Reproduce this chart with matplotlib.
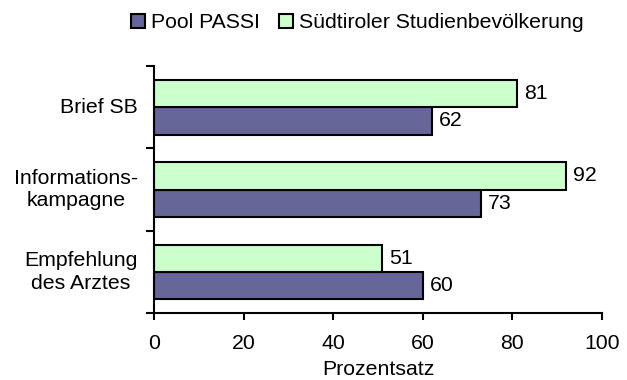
import matplotlib.pyplot as plt
import numpy as np

plt.rcParams['font.family'] = ['Liberation Sans', 'DejaVu Sans']

categories = ['Brief SB', 'Informations-\nkampagne', 'Empfehlung\ndes Arztes']
pool_passi = [62, 73, 60]
suedtirol = [81, 92, 51]
series_names = ['Pool PASSI', 'Südtiroler Studienbevölkerung']

fs = 15.3
fig = plt.figure(figsize=(6.27, 3.8), dpi=100)
ax = fig.add_axes([0.2456, 0.176, 0.7145, 0.650])

y = np.arange(len(categories))[::-1]
h = 0.333

b1 = ax.barh(y - h / 2, pool_passi, h, color='#666699', edgecolor='black',
             linewidth=1.5, label=series_names[0])
b2 = ax.barh(y + h / 2, suedtirol, h, color='#ccffcc', edgecolor='black',
             linewidth=1.5, label=series_names[1])

for bars in (b1, b2):
    for r in bars:
        w = r.get_width()
        ax.annotate(f'{w:.0f}', xy=(w, r.get_y() + r.get_height() / 2),
                    xytext=(5, 0), textcoords='offset points',
                    ha='left', va='center', fontsize=fs)

ax.set_xlim(0, 100)
ax.set_ylim(-0.5, 2.5)
ax.set_xticks(np.arange(0, 101, 20))
ax.set_yticks([-0.5, 0.5, 1.5, 2.5])
ax.set_yticklabels([])
ax.tick_params(axis='y', length=6, width=1.5, direction='out')
ax.tick_params(axis='x', length=5, width=1.5, direction='out', labelsize=fs, pad=10)
for yi, cat in zip(y, categories):
    ax.text(-0.036, yi, cat, transform=ax.get_yaxis_transform(),
            ha='right', va='center', fontsize=fs, multialignment='center',
            linespacing=1.25)

for s in ['top', 'right']:
    ax.spines[s].set_visible(False)
for s in ['left', 'bottom']:
    ax.spines[s].set_linewidth(1.5)

ax.set_xlabel('Prozentsatz', fontsize=fs, labelpad=5)

fig.legend(handles=[b1, b2], loc='upper center', bbox_to_anchor=(0.57, 1.015),
           ncol=2, frameon=False, fontsize=fs, handlelength=0.65, handleheight=0.65,
           handletextpad=0.3, columnspacing=0.9)

fig.savefig('out.png', dpi=100)
